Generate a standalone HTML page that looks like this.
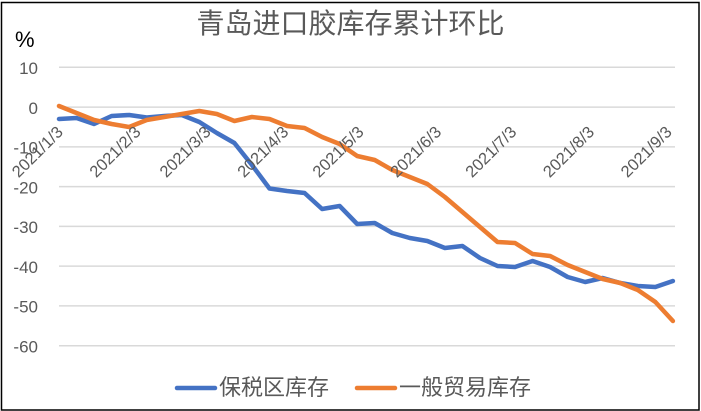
<!DOCTYPE html>
<html><head><meta charset="utf-8"><style>
html,body{margin:0;padding:0;background:#fff;}
svg{display:block;}
text{font-family:"Liberation Sans","Noto Sans CJK SC",sans-serif;}
</style></head><body>
<svg width="701" height="411" viewBox="0 0 701 411" xmlns="http://www.w3.org/2000/svg">
<rect x="0" y="0" width="701" height="411" fill="#fff"/>
<rect x="1.5" y="2.5" width="697.5" height="407.5" fill="none" stroke="#000" stroke-width="1.5"/>
<text x="350.5" y="33" font-size="28" fill="#595959" text-anchor="middle" font-family="Liberation Sans, Noto Sans CJK SC, sans-serif">青岛进口胶库存累计环比</text>
<text x="15" y="47" font-size="22" fill="#000">%</text>
<g stroke="#d9d9d9" stroke-width="1.5">
<line x1="59" x2="675" y1="67.3" y2="67.3"/>
<line x1="59" x2="675" y1="107.07" y2="107.07"/>
<line x1="59" x2="675" y1="146.84" y2="146.84"/>
<line x1="59" x2="675" y1="186.61" y2="186.61"/>
<line x1="59" x2="675" y1="226.38" y2="226.38"/>
<line x1="59" x2="675" y1="266.15" y2="266.15"/>
<line x1="59" x2="675" y1="305.92" y2="305.92"/>
<line x1="59" x2="675" y1="345.69" y2="345.69"/>
</g>
<g font-size="17" fill="#595959" text-anchor="end">
<text x="38" y="74">10</text>
<text x="38" y="113.8">0</text>
<text x="38" y="153.6">-10</text>
<text x="38" y="193.4">-20</text>
<text x="38" y="233.1">-30</text>
<text x="38" y="272.9">-40</text>
<text x="38" y="312.7">-50</text>
<text x="38" y="352.4">-60</text>
</g>
<polyline fill="none" stroke="#4472c4" stroke-width="4.5" stroke-linejoin="round" stroke-linecap="round" points="59,119 76.54,118 94.08,124 111.62,116 129.16,115 146.7,117.5 164.24,116 181.78,115 199.32,122 216.86,133 234.4,143 251.94,165 269.48,188.5 287.02,191 304.56,193 322.1,209 339.64,206 357.18,224 374.72,223 392.26,233 409.8,238 427.34,241 444.88,248 462.42,246 479.96,258 497.5,266 515.04,267 532.58,261 550.12,267 567.66,277 585.2,282 602.74,278 620.28,283 637.82,286 655.36,287 672.9,281"/>
<polyline fill="none" stroke="#ed7d31" stroke-width="4.5" stroke-linejoin="round" stroke-linecap="round" points="59,106 76.54,113 94.08,120 111.62,124 129.16,127 146.7,120 164.24,117 181.78,114 199.32,111 216.86,114 234.4,121 251.94,117 269.48,119 287.02,126 304.56,128 322.1,137 339.64,144 357.18,156 374.72,160 392.26,170 409.8,177 427.34,184 444.88,197 462.42,212 479.96,227 497.5,242 515.04,243 532.58,254 550.12,256 567.66,265 585.2,272 602.74,279 620.28,283 637.82,290 655.36,302 672.9,321"/>
<g font-size="16.5" fill="#595959" text-anchor="end">
<text transform="translate(64,133) rotate(-45)">2021/1/3</text>
<text transform="translate(141.7,133) rotate(-45)">2021/2/3</text>
<text transform="translate(211.8,133) rotate(-45)">2021/3/3</text>
<text transform="translate(289.5,133) rotate(-45)">2021/4/3</text>
<text transform="translate(364.7,133) rotate(-45)">2021/5/3</text>
<text transform="translate(442.4,133) rotate(-45)">2021/6/3</text>
<text transform="translate(517.5,133) rotate(-45)">2021/7/3</text>
<text transform="translate(595.2,133) rotate(-45)">2021/8/3</text>
<text transform="translate(672.9,133) rotate(-45)">2021/9/3</text>
</g>
<line x1="177" x2="215" y1="388" y2="388" stroke="#4472c4" stroke-width="4.5" stroke-linecap="round"/>
<text x="219" y="395" font-size="22" fill="#595959">保税区库存</text>
<line x1="357" x2="395" y1="388" y2="388" stroke="#ed7d31" stroke-width="4.5" stroke-linecap="round"/>
<text x="399" y="395" font-size="22" fill="#595959">一般贸易库存</text>
</svg>
</body></html>
